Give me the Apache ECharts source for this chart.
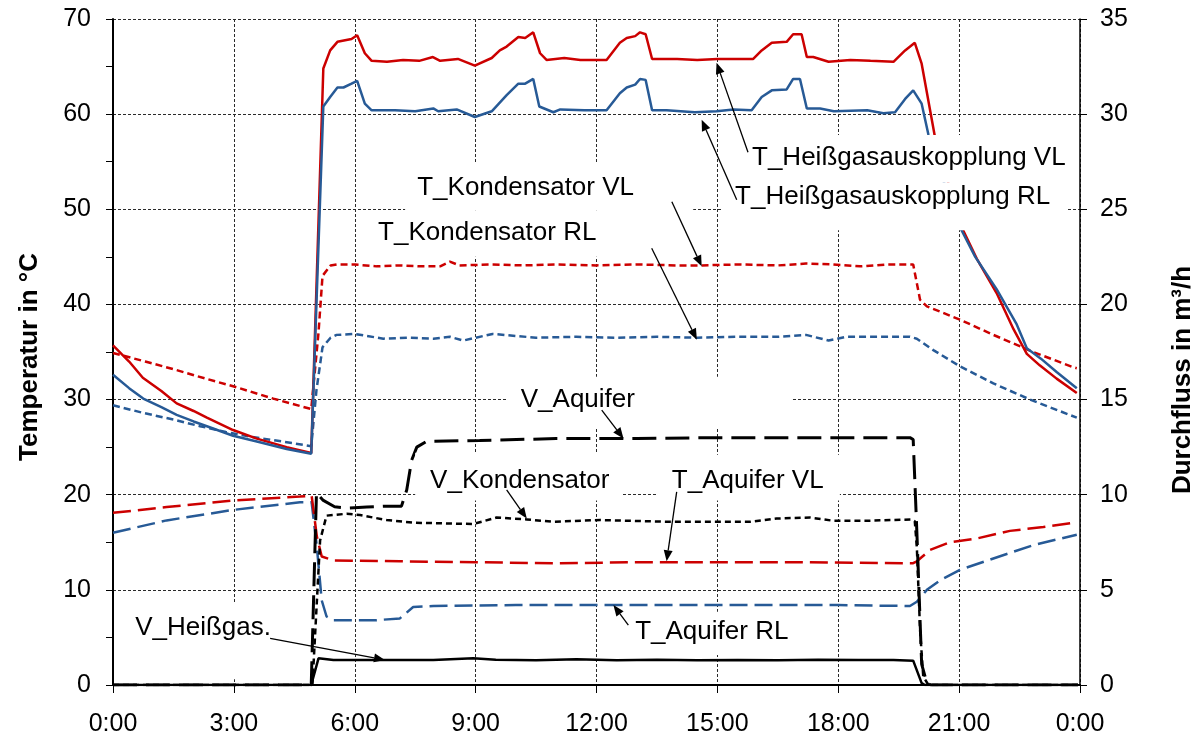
<!DOCTYPE html>
<html>
<head>
<meta charset="utf-8">
<script src="https://cdn.jsdelivr.net/npm/echarts@6.0.0/dist/echarts.min.js"></script>
<style>
  html, body { margin: 0; background: #fff; }
  #main { width: 1203px; height: 741px; }
</style>
</head>
<body>
<div id="main"></div>
<script>
// time in hours, temperatures in °C (left axis), flows in m³/h (right axis)
const xTicks = [0, 3, 6, 9, 12, 15, 18, 21, 24]

const tHeissVL = [[0,35.7],[0.4,34.0],[0.74,32.3],[1.2,30.9],[1.58,29.6],[2.0,28.8],[2.33,28.1],[2.98,26.8],[3.57,25.9],[4.31,25.0],[4.92,24.4],[5.22,64.8],[5.39,66.7],[5.57,67.6],[5.92,67.9],[6.06,68.3],[6.25,66.4],[6.42,65.6],[6.8,65.5],[7.2,65.7],[7.6,65.6],[7.94,66.0],[8.12,65.6],[8.56,65.8],[8.98,65.1],[9.4,65.9],[9.6,66.7],[9.77,67.1],[10.06,68.1],[10.23,68.0],[10.43,68.6],[10.6,66.4],[10.76,65.7],[11.2,65.9],[11.6,65.7],[12.25,65.7],[12.58,67.5],[12.75,68.0],[12.96,68.2],[13.08,68.6],[13.22,68.4],[13.38,65.8],[14.0,65.8],[14.5,65.7],[15.0,65.8],[15.89,65.8],[16.1,66.7],[16.35,67.5],[16.72,67.6],[16.88,68.4],[17.09,68.4],[17.22,66.0],[17.38,66.0],[17.76,65.5],[18.3,65.7],[18.8,65.6],[19.37,65.5],[19.66,66.7],[19.9,67.5],[20.07,65.3],[20.4,57.6],[20.75,52.5],[21.1,47.8],[21.44,44.8],[21.93,41.2],[22.35,37.4],[22.68,34.8],[23.0,33.6],[23.42,32.2],[23.92,30.7]]
const tHeissRL = [[0,32.6],[0.4,31.2],[0.75,30.1],[1.2,29.2],[1.58,28.4],[2.0,27.7],[2.33,27.2],[2.98,26.2],[3.57,25.6],[4.31,24.8],[4.92,24.3],[5.22,60.8],[5.39,61.8],[5.57,62.8],[5.72,62.8],[5.92,63.2],[6.06,63.5],[6.25,61.1],[6.42,60.4],[7.0,60.4],[7.5,60.3],[7.95,60.6],[8.07,60.3],[8.53,60.5],[8.98,59.7],[9.4,60.3],[9.77,62.0],[10.06,63.2],[10.23,63.2],[10.43,63.7],[10.58,60.8],[10.93,60.2],[11.1,60.5],[11.7,60.4],[12.25,60.4],[12.58,62.2],[12.75,62.8],[12.96,63.1],[13.08,63.7],[13.22,63.6],[13.38,60.4],[13.74,60.4],[14.44,60.2],[14.98,60.3],[15.4,60.5],[15.85,60.4],[16.1,61.8],[16.35,62.5],[16.72,62.6],[16.88,63.7],[17.05,63.7],[17.22,60.6],[17.55,60.6],[17.89,60.3],[18.72,60.4],[19.12,60.1],[19.41,60.2],[19.66,61.6],[19.86,62.5],[20.07,61.1],[20.24,57.8],[20.65,52.5],[21.06,47.8],[21.4,45.0],[21.93,41.6],[22.43,37.9],[22.68,35.4],[23.03,34.3],[23.42,32.9],[23.92,31.2]]
const tKondVL = [[0,34.9],[0.8,34.0],[1.58,33.1],[2.3,32.2],[2.98,31.4],[3.98,30.1],[4.92,29.0],[5.1,37.0],[5.2,43.0],[5.4,44.1],[5.55,44.2],[6.0,44.2],[6.54,44.0],[7.12,44.1],[7.6,44.0],[8.12,44.0],[8.36,44.5],[8.6,44.1],[9.42,44.2],[10.2,44.1],[11,44.2],[12,44.1],[13,44.2],[14,44.1],[14.57,44.1],[15.56,44.2],[16.5,44.1],[17.2,44.3],[17.87,44.2],[18.54,44.0],[19.2,44.2],[19.86,44.2],[20.03,40.5],[20.2,39.8],[21.02,38.4],[21.85,36.8],[22.84,35.0],[23.83,33.4],[23.92,33.3]]
const tKondRL = [[0,29.4],[0.75,28.6],[1.5,27.9],[2.16,27.2],[2.8,26.6],[3.4,26.1],[4.2,25.6],[4.92,25.1],[5.05,31.0],[5.2,35.5],[5.4,36.5],[5.55,36.8],[6.0,36.9],[6.71,36.4],[7.3,36.5],[7.95,36.4],[8.36,36.6],[8.69,36.2],[9.42,36.9],[10.5,36.5],[11.5,36.6],[12.5,36.5],[13.5,36.6],[14.5,36.5],[15.5,36.6],[16.5,36.6],[17.2,36.8],[17.76,36.2],[18.2,36.6],[19.0,36.6],[19.78,36.6],[19.95,36.4],[20.36,35.2],[21.02,33.5],[21.85,31.7],[22.76,30.0],[23.92,28.1]]
const tAquiferVL = [[0,18.1],[1.33,18.7],[2.98,19.4],[4.64,19.8],[4.93,19.9],[5.06,15.6],[5.18,13.5],[5.47,13.1],[7.12,13.0],[9,12.9],[11,12.8],[13,12.9],[15,12.9],[17,12.9],[19.86,12.8],[19.95,13.0],[20.28,14.2],[20.77,15.0],[21.44,15.4],[22.26,16.2],[23.09,16.6],[23.92,17.1]]
const tAquiferRL = [[0,16.0],[1.33,17.3],[2.98,18.4],[4.64,19.2],[4.93,19.2],[5.06,14.5],[5.18,8.9],[5.3,7.2],[5.47,6.8],[6.5,6.8],[7.12,7.0],[7.45,8.2],[7.95,8.3],[10,8.4],[12,8.4],[14,8.4],[16,8.4],[18,8.4],[19.78,8.3],[19.95,8.75],[20.2,10.0],[20.53,11.0],[21.02,12.1],[21.85,13.3],[22.84,14.7],[23.92,15.8]]

const vAquifer = [[0,0],[4.92,0],[5.05,10.1],[5.22,9.7],[5.5,9.37],[5.8,9.3],[6.3,9.35],[6.8,9.4],[7.16,9.4],[7.29,10.25],[7.41,11.8],[7.54,12.5],[7.78,12.8],[9.1,12.85],[11,12.95],[13,12.95],[15,13.0],[17,13.0],[19.78,13.0],[19.86,12.9],[19.95,8.1],[20.07,1.1],[20.2,0.1],[20.3,0],[23.95,0]]
const vKondensator = [[0,0],[4.95,0],[5.14,7.6],[5.3,8.9],[5.8,9.0],[6.13,8.93],[6.79,8.67],[7.45,8.53],[8.94,8.46],[9.52,8.8],[10.27,8.7],[10.93,8.58],[12.09,8.67],[13.74,8.58],[15.81,8.58],[16.47,8.75],[17.3,8.8],[17.88,8.63],[18.7,8.63],[19.82,8.7],[19.9,8.6],[19.95,7.27],[20.03,2.9],[20.11,0.44],[20.24,0],[23.95,0]]
const vHeissgas = [[0,0],[4.92,0],[5.1,1.4],[5.47,1.31],[6.71,1.31],[7.95,1.31],[8.94,1.4],[9.5,1.33],[10.5,1.3],[11.5,1.35],[12.5,1.3],[13.5,1.33],[14.5,1.3],[15.5,1.32],[16.5,1.3],[17.5,1.33],[18.5,1.31],[19.37,1.31],[19.41,1.4],[19.86,1.28],[20.07,0.1],[20.15,0],[23.95,0]]

// annotations, in data coordinates of the left axis: text anchor, arrow tail/head, white box
const notes = [
  { text: 'T_Heißgasauskopplung VL', at: [15.86, 55.4], from: [15.76, 56.0], to: [14.98, 65.4], box: [15.12, 57.8, 23.68, 52.8] },
  { text: 'T_Heißgasauskopplung RL', at: [15.44, 51.3], from: [15.48, 51.0], to: [14.61, 59.4], box: [15.12, 52.8, 23.68, 47.8] },
  { text: 'T_Kondensator VL', at: [7.55, 52.3], from: [13.87, 50.8], to: [14.61, 44.0], box: [7.25, 54.9, 14.4, 49.9] },
  { text: 'T_Kondensator RL', at: [6.58, 47.5], from: [13.37, 45.9], to: [14.49, 36.3], box: [6.25, 49.9, 13.33, 45.0] },
  { text: 'V_Aquifer', at: [10.12, 29.96], from: [12.13, 28.9], to: [12.67, 25.9], box: [9.78, 32.4, 16.85, 27.1] },
  { text: 'V_Kondensator', at: [7.87, 21.5], from: [9.77, 20.5], to: [10.27, 17.5], box: [7.5, 24.4, 12.63, 19.4] },
  { text: 'T_Aquifer VL', at: [13.87, 21.5], from: [13.99, 20.3], to: [13.74, 13.0], box: [13.5, 24.2, 18.04, 19.4] },
  { text: 'T_Aquifer RL', at: [12.96, 5.6], from: [12.79, 6.3], to: [12.42, 8.4], box: [12.7, 7.7, 17.05, 3.15] },
  { text: 'V_Heißgas.', at: [0.55, 6.0], from: [3.9, 4.9], to: [6.75, 2.63], box: [0.17, 8.6, 4.0, 0.6] }
]

const RED = '#cc0000'
const BLUE = '#275a96'
const FONT = '"Liberation Sans", Arial, sans-serif'
const GRID = { color: '#2a2a2a', width: 1, type: [3, 2] }

function line(name, data, color, type, width, axis) {
  return {
    name: name,
    type: 'line',
    data: data,
    yAxisIndex: axis,
    showSymbol: false,
    symbol: 'none',
    animation: false,
    lineStyle: { color: color, width: width, type: type },
    itemStyle: { color: color }
  }
}

const chart = echarts.init(document.getElementById('main'))

chart.setOption({
  animation: false,
  backgroundColor: '#fff',
  grid: { left: 113, right: 123, top: 19, bottom: 56 },
  xAxis: {
    type: 'value',
    min: 0,
    max: 24,
    interval: 3,
    axisLine: { lineStyle: { color: '#000', width: 2 } },
    axisTick: { show: true, length: 8, lineStyle: { color: '#000', width: 1 } },
    axisLabel: { color: '#000', fontSize: 25, fontFamily: FONT, margin: 27, formatter: v => (v % 24) + ':00' },
    splitLine: { show: true, lineStyle: GRID }
  },
  yAxis: [
    {
      type: 'value',
      min: 0,
      max: 70,
      interval: 10,
      axisLine: { show: true, lineStyle: { color: '#000', width: 2 } },
      axisTick: { show: true, length: 7, lineStyle: { color: '#000', width: 1 } },
      minorTick: { show: true, splitNumber: 2, length: 7, lineStyle: { color: '#000', width: 1 } },
      axisLabel: { color: '#000', fontSize: 25, fontFamily: FONT, margin: 22 },
      splitLine: { show: true, lineStyle: GRID }
    },
    {
      type: 'value',
      min: 0,
      max: 35,
      interval: 5,
      position: 'right',
      axisLine: { show: true, lineStyle: { color: '#000', width: 1.5 } },
      axisTick: { show: true, length: 7, lineStyle: { color: '#000', width: 1 } },
      axisLabel: { color: '#000', fontSize: 25, fontFamily: FONT, margin: 20 },
      splitLine: { show: false }
    }
  ],
  series: [
    line('T_Aquifer RL', tAquiferRL, BLUE, [18, 7], 2.5, 0),
    line('T_Aquifer VL', tAquiferVL, RED, [18, 7], 2.5, 0),
    line('T_Kondensator RL', tKondRL, BLUE, [7, 4], 2.5, 0),
    line('T_Kondensator VL', tKondVL, RED, [7, 4], 2.5, 0),
    line('T_Heißgasauskopplung VL', tHeissVL, RED, 'solid', 2.5, 0),
    line('T_Heißgasauskopplung RL', tHeissRL, BLUE, 'solid', 2.5, 0),
    line('V_Heißgas', vHeissgas, '#000', 'solid', 2.5, 1),
    line('V_Kondensator', vKondensator, '#000', [6, 4], 2.5, 1),
    line('V_Aquifer', vAquifer, '#000', [24, 9], 3, 1)
  ]
})

function px(p) {
  return chart.convertToPixel({ xAxisIndex: 0, yAxisIndex: 0 }, p)
}

const graphic = []
notes.forEach(n => {
  const a = px([n.box[0], n.box[1]])
  const b = px([n.box[2], n.box[3]])
  graphic.push({ type: 'rect', z: 100, shape: { x: a[0], y: a[1], width: b[0] - a[0], height: b[1] - a[1] }, style: { fill: '#fff' } })
})
notes.forEach(n => {
  const p = px(n.at)
  graphic.push({ type: 'text', z: 101, x: p[0], y: p[1], style: { text: n.text, font: '26px ' + FONT, fill: '#000', verticalAlign: 'middle' } })
})
notes.forEach(n => {
  const s = px(n.from)
  const e = px(n.to)
  const dx = e[0] - s[0], dy = e[1] - s[1]
  const len = Math.sqrt(dx * dx + dy * dy)
  const ux = dx / len, uy = dy / len
  const L = 11, W = 4.5
  const bx = e[0] - ux * L, by = e[1] - uy * L
  graphic.push({ type: 'line', z: 102, shape: { x1: s[0], y1: s[1], x2: bx, y2: by }, style: { stroke: '#000', lineWidth: 1.3 } })
  graphic.push({ type: 'polygon', z: 102, shape: { points: [[e[0], e[1]], [bx - uy * W, by + ux * W], [bx + uy * W, by - ux * W]] }, style: { fill: '#000' } })
})

// axis titles
graphic.push({ type: 'text', z: 101, x: 30, y: 357, rotation: Math.PI / 2, style: { text: 'Temperatur in °C', font: 'bold 26px ' + FONT, fill: '#000', align: 'center', verticalAlign: 'middle' } })
graphic.push({ type: 'text', z: 101, x: 1183, y: 380, rotation: Math.PI / 2, style: { text: 'Durchfluss in m³/h', font: 'bold 26px ' + FONT, fill: '#000', align: 'center', verticalAlign: 'middle' } })

chart.setOption({ graphic: graphic })
</script>
</body>
</html>
